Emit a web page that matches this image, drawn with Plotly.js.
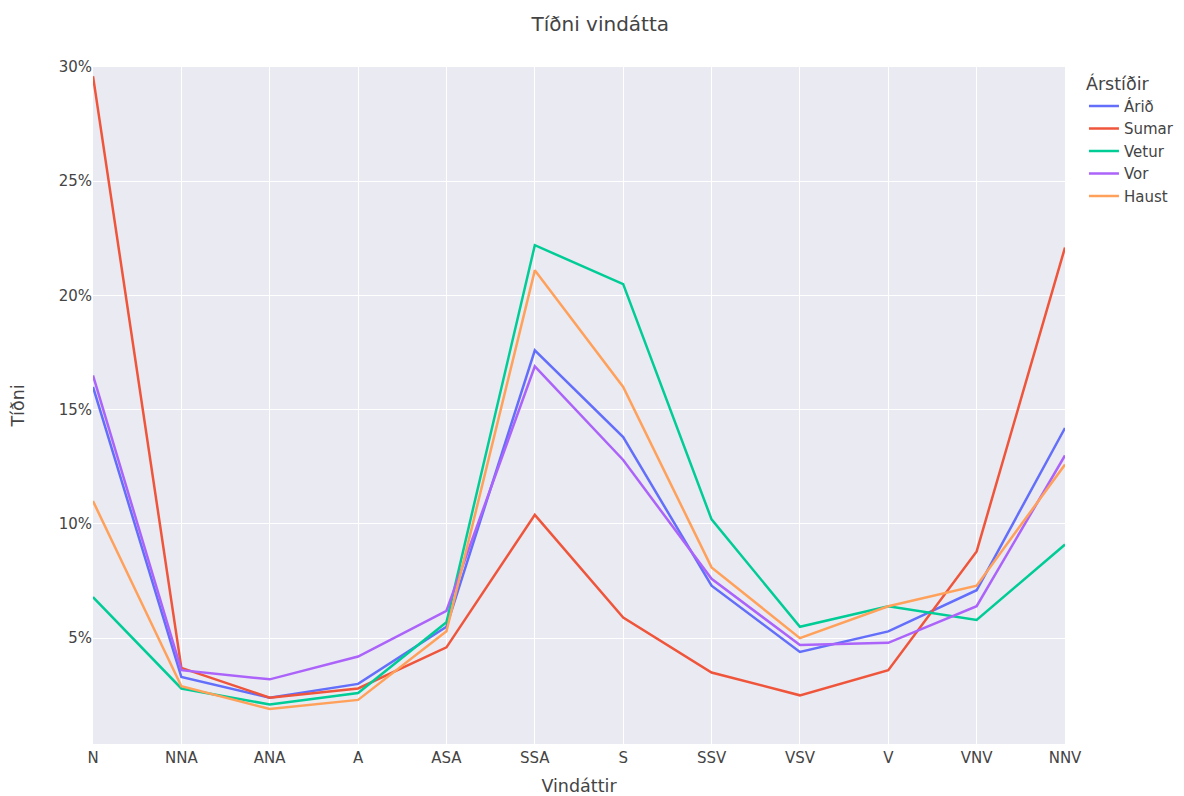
<!DOCTYPE html>
<html>
<head>
<meta charset="utf-8">
<script src="https://cdn.plot.ly/plotly-3.0.1.min.js"></script>
<style>html,body{margin:0;padding:0;background:#fff;}#chart{width:1184px;height:796px;}</style>
</head>
<body>
<div id="chart"></div>
<script>
const directions = ["N","NNA","ANA","A","ASA","SSA","S","SSV","VSV","V","VNV","NNV"];
const arid   = [0.160,0.033,0.024,0.030,0.055,0.176,0.138,0.073,0.044,0.053,0.071,0.142];
const sumar  = [0.296,0.037,0.024,0.028,0.046,0.104,0.059,0.035,0.025,0.036,0.088,0.221];
const vetur  = [0.068,0.028,0.021,0.026,0.057,0.222,0.205,0.102,0.055,0.064,0.058,0.091];
const vor    = [0.165,0.036,0.032,0.042,0.062,0.169,0.128,0.076,0.047,0.048,0.064,0.130];
const haust  = [0.110,0.029,0.019,0.023,0.053,0.211,0.160,0.081,0.050,0.064,0.073,0.126];
const seriesNames = ["Árið","Sumar","Vetur","Vor","Haust"];
const colors = ["#636efa","#EF553B","#00cc96","#ab63fa","#FFA15A"];
const allSeries = [arid, sumar, vetur, vor, haust];

const traces = allSeries.map((v, i) => ({
  type: "scatter", mode: "lines", x: directions, y: v, name: seriesNames[i],
  line: {color: colors[i], width: 2.5}
}));

const layout = {
  width: 1184, height: 796,
  margin: {l: 93, r: 119, t: 67, b: 52, autoexpand: false},
  paper_bgcolor: "#ffffff", plot_bgcolor: "#EAEAF2",
  font: {family: "DejaVu Sans, sans-serif", size: 15, color: "#444"},
  title: {text: "Tíðni vindátta", xref: "container", x: 0.507, xanchor: "center", yref: "container", y: 0.97, yanchor: "middle", font: {size: 20, color: "#444"}},
  xaxis: {
    title: {text: "Vindáttir", font: {size: 17.5}, standoff: 24},
    type: "category", gridcolor: "#ffffff", gridwidth: 1.25, linecolor: "#ffffff", zeroline: false,
    range: [0, 11], ticks: "", automargin: false
  },
  yaxis: {
    title: {text: "Tíðni", font: {size: 17.5}, standoff: 29},
    range: [0.0037, 0.30], tickformat: ".0%", dtick: 0.05,
    gridcolor: "#ffffff", gridwidth: 1.25, zeroline: false, ticks: "", automargin: false
  },
  legend: {title: {text: "Árstíðir", font: {size: 17.5}}, font: {size: 15},
           xref: "container", x: 0.9155, yref: "paper", y: 1.0, xanchor: "left", yanchor: "top", tracegroupgap: 0},
  showlegend: true
};

Plotly.newPlot("chart", traces, layout, {displayModeBar: false});
</script>
</body>
</html>
